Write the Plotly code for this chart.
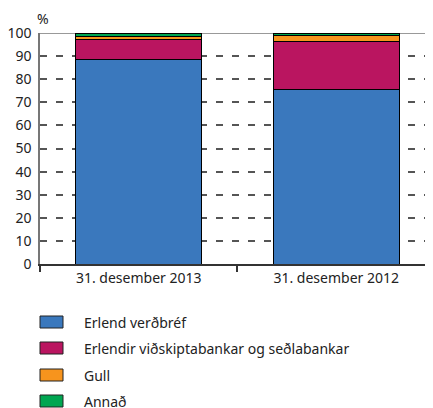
import plotly.graph_objects as go

# Samsetning gjaldeyrisforða (%)
categories = ["31. desember 2013", "31. desember 2012"]
series_names = ["Erlend verðbréf", "Erlendir viðskiptabankar og seðlabankar", "Gull", "Annað"]
erlend_verdbref = [88.6, 75.6]
vidskiptabankar = [8.7, 20.8]
gull = [1.4, 2.6]
annad = [1.3, 1.0]
y_ticks = list(range(0, 101, 10))

colors = ["#3A78BD", "#BA1560", "#F7941D", "#00A651"]
values = [erlend_verdbref, vidskiptabankar, gull, annad]

font = "Noto Sans"
OFF = 8  # page body margin
W, H = 433 - OFF, 408 - OFF
plot_left, plot_top, plot_bot = 40 - OFF, 33 - OFF, 264 - OFF
plot_w = W - plot_left
plot_h = plot_bot - plot_top


def px_x(x):
    return (x - OFF - plot_left) / plot_w


def px_y(y):
    return (plot_bot - (y - OFF)) / plot_h


fig = go.Figure()

for name, vals, col in zip(series_names, values, colors):
    fig.add_trace(go.Bar(
        x=categories, y=vals, name=name,
        marker=dict(color=col, line=dict(color="black", width=1)),
        width=0.64, showlegend=False,
    ))

# top border line at 100
fig.add_shape(type="line", xref="paper", yref="y", x0=0, x1=1, y0=100, y1=100,
              line=dict(color="#777777", width=1.5), layer="below")

# legend drawn by hand to match wide swatches
leg_y = [322, 348, 375, 401]
for name, col, py in zip(series_names, colors, leg_y):
    fig.add_shape(type="rect", xref="paper", yref="paper",
                  x0=px_x(40), x1=px_x(63), y0=px_y(py + 6), y1=px_y(py - 6),
                  line=dict(color="#222222", width=1), fillcolor=col)
    fig.add_annotation(xref="paper", yref="paper", x=px_x(82), y=px_y(py),
                       text=name, showarrow=False, xanchor="left", yanchor="middle",
                       font=dict(family=font, size=14, color="#222222"))

fig.add_annotation(xref="paper", yref="paper", x=px_x(43), y=px_y(18), text="%",
                   showarrow=False, xanchor="center", yanchor="middle",
                   font=dict(family=font, size=14, color="#222222"))

fig.update_layout(
    barmode="stack",
    width=W, height=H,
    margin=dict(l=plot_left, r=0, t=plot_top, b=H - plot_bot, pad=0),
    plot_bgcolor="white", paper_bgcolor="white",
    font=dict(family=font, size=14, color="#222222"),
    showlegend=False,
    xaxis=dict(
        range=[-0.5, 1.49],
        showline=True, linecolor="#333333", linewidth=1.5,
        ticks="outside", tickson="boundaries", ticklen=6, tickcolor="#333333",
        tickwidth=1.5, showgrid=False,
        tickfont=dict(family=font, size=14, color="#222222"),
    ),
    yaxis=dict(
        range=[0, 100], tickvals=y_ticks,
        showline=True, linecolor="#777777", linewidth=1.5,
        showgrid=True, gridcolor="#555555", gridwidth=1.5, griddash="7px,9px",
        zeroline=False, ticks="", ticklabelstandoff=4,
        tickfont=dict(family=font, size=14, color="#222222"),
    ),
)

fig.write_html("out.html")
